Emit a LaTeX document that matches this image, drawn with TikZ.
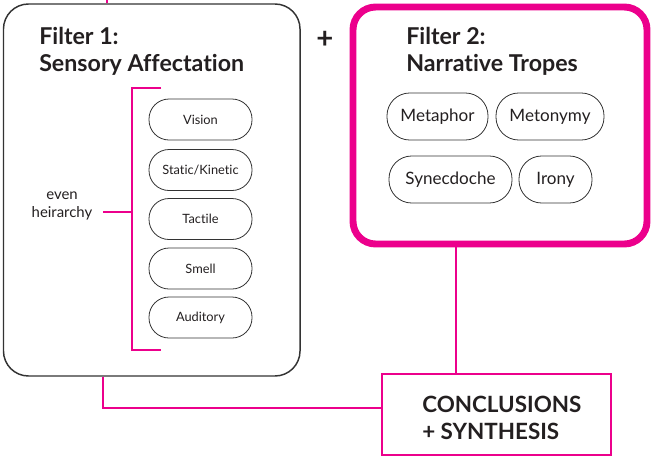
\documentclass[tikz,border=0pt]{standalone}
\usepackage{fontspec}
\setmainfont[Ligatures={NoCommon}]{Lato}
\definecolor{pinkc}{HTML}{EC008C}
\definecolor{inkc}{HTML}{231F20}
\definecolor{linec}{HTML}{333333}
\begin{document}
\begin{tikzpicture}[x=0.75pt,y=-0.75pt,
  bigbox/.style={draw=linec,line width=1.1pt,rounded corners=18.75pt,inner sep=0pt},
  pinkbox/.style={draw=pinkc,line width=5.2pt,rounded corners=17pt,inner sep=0pt},
  concbox/.style={draw=pinkc,line width=1.4pt,inner sep=0pt},
  pill/.style={draw=linec,line width=0.6pt,rounded corners=15pt,minimum width=77.25pt,minimum height=30.75pt,inner sep=0pt,font=\fontsize{9.6}{11}\selectfont,text=inkc},
  tpill/.style={draw=linec,line width=0.6pt,rounded corners=17pt,minimum height=35.25pt,inner sep=0pt,font=\fontsize{12.8}{14}\selectfont,text=inkc},
  title/.style={font=\fontsize{17.4}{20.25}\selectfont\bfseries,text=inkc,align=left,inner sep=0pt},
  conn/.style={draw=pinkc,line width=1.4pt},
  brk/.style={draw=pinkc,line width=1.4pt}]
\useasboundingbox (0,0) rectangle (653,457);
% boxes
\node[bigbox,minimum width=222.4pt,minimum height=279pt] (f1) at (151.75,190) {};
\node[pinkbox,minimum width=220.5pt,minimum height=177.75pt] (f2) at (500,125.5) {};
\node[concbox,minimum width=171.75pt,minimum height=60.75pt] (conc) at (496.5,414.5) {};
% titles
\node[title,anchor=north west] (t1) at (39,27) {Filter 1:\\Sensory Affectation};
\node[title,anchor=north west] (t2) at (406,27) {Filter 2:\\Narrative Tropes};
\node[font=\fontsize{22}{24}\selectfont\bfseries,text=inkc,inner sep=0pt] (plus) at (325,40) {+};
\node[font=\fontsize{16.8}{20}\selectfont\bfseries,text=inkc,align=left,anchor=west,inner sep=0pt] (ctext) at (422,418) {CONCLUSIONS\\+ SYNTHESIS};
% filter 1 pills
\node[pill] (p1) at (200.5,119.5) {Vision};
\node[pill] (p2) at (200.5,170) {Static/Kinetic};
\node[pill] (p3) at (200.5,219) {Tactile};
\node[pill] (p4) at (200.5,268.5) {Smell};
\node[pill] (p5) at (200.5,317.5) {Auditory};
% filter 2 pills
\node[tpill,minimum width=75.75pt] (m1) at (437.5,116.5) {Metaphor};
\node[tpill,minimum width=81pt] (m2) at (550,116.5) {Metonymy};
\node[tpill,minimum width=92.25pt] (m3) at (450.5,179.5) {Synecdoche};
\node[tpill,minimum width=54.75pt] (m4) at (555.5,179.5) {Irony};
% even hierarchy
\node[font=\fontsize{11.2}{13.5}\selectfont,text=inkc,align=center,inner sep=0pt] (eh) at (62,206) {even\\heirarchy};
\coordinate (bt) at (132,88);
\coordinate (bb) at (132,350);
\draw[brk] (161,88) -- (bt) -- (bb) -- (161,350);
\draw[brk] (103,212) -- (132,212);
% connectors
\coordinate (topend) at (107,0);
\draw[conn] (f1.north -| topend) -- (topend);
\coordinate (bend) at (103,408);
\draw[conn] (f1.south -| bend) -- (bend) -- (bend -| conc.west);
\coordinate (vx) at (456,0);
\draw[conn] (f2.south -| vx) -- (conc.north -| vx);
\end{tikzpicture}
\end{document}
